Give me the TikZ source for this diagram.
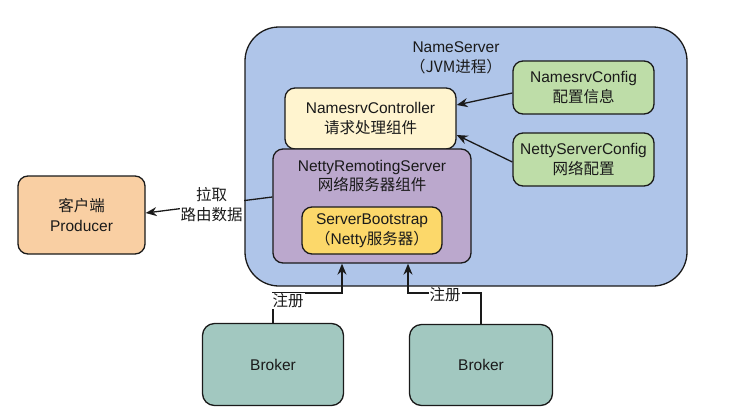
\documentclass[tikz,border=0pt]{standalone}
\usepackage{fontspec}
\setmainfont{Liberation Sans}
\newfontfamily\cjk{Noto Sans CJK SC}
\usetikzlibrary{arrows.meta}
\definecolor{outerblue}{HTML}{AFC5E9}
\definecolor{ctrlyellow}{HTML}{FFF4CF}
\definecolor{nrspurple}{HTML}{BBA8CD}
\definecolor{sbgold}{HTML}{FCD86A}
\definecolor{cfggreen}{HTML}{BEDDA8}
\definecolor{prodorange}{HTML}{F9CFA3}
\definecolor{brokerteal}{HTML}{A2C8C0}
\definecolor{ink}{HTML}{1A1A1A}
\tikzset{
  box/.style={draw=ink, line width=1.3pt, rounded corners=10pt, align=center,
    text=ink, font=\fontsize{15.5}{19.5}\selectfont, inner sep=0pt},
  conn/.style={draw=ink, line width=1.3pt, -{Stealth[length=11pt,width=9pt]}},
  lbl/.style={fill=white, text=ink, font=\fontsize{15.5}{19.5}\selectfont, inner sep=1pt, align=center},
}
\begin{document}
\begin{tikzpicture}[x=1pt,y=-1pt]
\useasboundingbox (0,0) rectangle (738,418);
% outer NameServer process
\node[box, rounded corners=34pt, fill=outerblue, minimum width=442pt, minimum height=259pt] (ns) at (466,156.5) {};
\node[text=ink, font=\fontsize{15.5}{20}\selectfont, align=center] (nslabel) at (456,58) {NameServer\\{\cjk （JVM进程）}};
% components
\node[box, fill=ctrlyellow, minimum width=171pt, minimum height=61pt] (ctrl) at (370.5,118.5) {NamesrvController\\{\cjk 请求处理组件}};
\node[box, fill=nrspurple, minimum width=198pt, minimum height=114pt] (nrs) at (372,206) {};
\node[text=ink, font=\fontsize{15.5}{19.5}\selectfont, align=center, inner sep=0pt] (nrslabel) at (372,176) {NettyRemotingServer\\{\cjk 网络服务器组件}};
\node[box, fill=sbgold, minimum width=140pt, minimum height=47pt] (sb) at (372,230.5) {ServerBootstrap\\{\cjk （}Netty{\cjk 服务器）}};
\node[box, fill=cfggreen, minimum width=141pt, minimum height=53pt] (nscfg) at (583.5,87.5) {NamesrvConfig\\{\cjk 配置信息}};
\node[box, fill=cfggreen, minimum width=141pt, minimum height=53pt] (netcfg) at (583.5,159.5) {NettyServerConfig\\{\cjk 网络配置}};
% client
\node[box, fill=prodorange, minimum width=127pt, minimum height=78pt] (prod) at (81.5,215) {{\cjk 客户端}\\Producer};
% brokers
\node[box, rounded corners=12pt, fill=brokerteal, minimum width=141pt, minimum height=82pt] (bl) at (273,364.5) {Broker};
\node[box, rounded corners=12pt, fill=brokerteal, minimum width=143pt, minimum height=81pt] (br) at (481,365) {Broker};
% config arrows
\draw[conn] ([yshift=-5.5pt]nscfg.west) -- ([yshift=13.5pt]ctrl.east);
\draw[conn] ([yshift=-2.5pt]netcfg.west) -- ([yshift=-16.5pt]ctrl.east);
% pull route data
\draw[conn] ([yshift=9pt]nrs.west) -- node[lbl, pos=0.48] (pulllbl) {{\cjk 拉取}\\{\cjk 路由数据}} ([yshift=2pt]prod.east);
% broker registration
\coordinate (bendl) at (342,293);
\coordinate (bendr) at (408,293);
\draw[conn] (bl.north) |- (bendl) -- (bendl |- nrs.south);
\node[lbl] (reg1) at (288,301) {\cjk 注册};
\draw[conn] (br.north) |- (bendr) -- (bendr |- nrs.south);
\node[lbl] (reg2) at (445,295) {\cjk 注册};
\end{tikzpicture}
\end{document}
